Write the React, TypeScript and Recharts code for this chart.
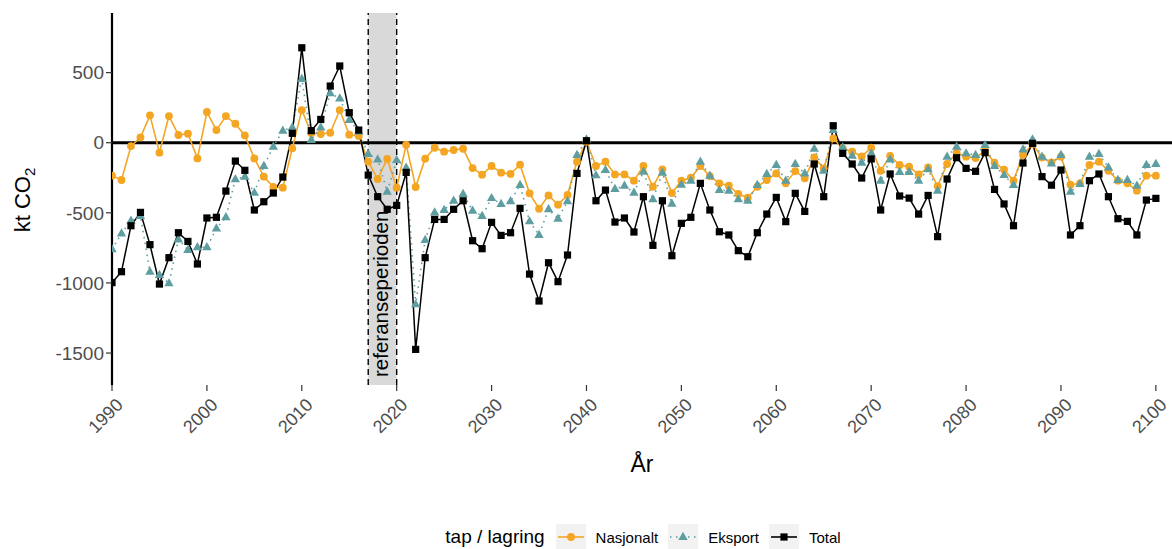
import React from "react";
import {
  LineChart,
  Line,
  XAxis,
  YAxis,
  ReferenceArea,
  ReferenceLine,
  Legend,
} from "recharts";

// årlige verdier 1990–2100, kt CO2
const years = Array.from({ length: 111 }, (_, i) => 1990 + i);

const nasjonalt = [
  -235, -266, -24, 38, 195, -71, 190, 55, 64, -112,
  219, 90, 190, 135, 52, -112, -242, -316, -321, -40,
  233, 67, 62, 71, 233, 57, 48, -135, -259, -116,
  -321, -14, -316, -114, -36, -64, -52, -43, -181, -228,
  -166, -214, -223, -157, -361, -471, -376, -442, -373, -135,
  7, -166, -135, -226, -226, -271, -166, -314, -190, -359,
  -271, -250, -166, -238, -290, -307, -366, -392, -314, -266,
  -219, -290, -202, -254, -105, -183, 31, -40, -64, -98,
  -36, -200, -95, -159, -171, -226, -176, -309, -152, -71,
  -100, -109, -57, -143, -192, -270, -88, -10, -106, -140,
  -100, -300, -290, -159, -135, -200, -271, -290, -342, -235,
  -235,
];

const eksport = [
  -760, -647, -556, -523, -920, -944, -1003, -690, -765, -746,
  -746, -611, -532, -261, -242, -357, -166, -29, 86, 109,
  455, 19, 109, 352, 316, 162, 80, -81, -119, -349,
  -124, -178, -1153, -694, -497, -480, -414, -366, -485, -523,
  -395, -437, -418, -302, -561, -658, -475, -542, -418, -88,
  24, -233, -195, -330, -307, -357, -207, -404, -214, -435,
  -300, -271, -135, -235, -338, -342, -404, -414, -302, -223,
  -159, -271, -152, -219, -43, -200, 90, -33, -93, -143,
  -76, -271, -119, -209, -209, -271, -190, -342, -100, -29,
  -76, -88, -17, -166, -231, -302, -48, 24, -100, -148,
  -88, -349, -295, -100, -81, -176, -266, -266, -307, -159,
  -152,
];

const total = [
  -998, -920, -592, -497, -727, -1008, -820, -642, -704, -865,
  -537, -532, -345, -131, -197, -480, -421, -359, -245, 67,
  677, 86, 166, 404, 547, 214, 90, -231, -385, -475,
  -447, -212, -1474, -820, -547, -547, -475, -414, -699, -756,
  -568, -661, -642, -468, -937, -1129, -856, -991, -801, -219,
  14, -414, -338, -566, -537, -637, -385, -732, -414, -806,
  -575, -532, -290, -480, -635, -658, -770, -813, -642, -509,
  -390, -563, -361, -490, -152, -385, 121, -76, -152, -252,
  -116, -480, -223, -380, -395, -509, -376, -670, -259, -107,
  -183, -204, -71, -333, -437, -592, -145, -5, -242, -303,
  -195, -658, -592, -271, -223, -385, -542, -561, -658, -409,
  -397,
];

const yearTicks = [1990, 2000, 2010, 2020, 2030, 2040, 2050, 2060, 2070, 2080, 2090, 2100];
const valueTicks = [-1500, -1000, -500, 0, 500];
const referansePeriode = [2017, 2020];
const seriesOrder = ["nasjonalt", "eksport", "total"];

const data = years.map((year, i) => ({
  year,
  nasjonalt: nasjonalt[i],
  eksport: eksport[i],
  total: total[i],
}));

const FONT = '"Liberation Sans", Arial, Helvetica, sans-serif';
const ORANGE = "#F4A521";
const TEAL = "#5F9EA0";
const GREY_TEXT = "#4D4D4D";

const circleDot = (p: any) =>
  p.cx == null ? null : <circle key={`n-${p.index}`} cx={p.cx} cy={p.cy} r={3.9} fill={ORANGE} />;

const triangleDot = (p: any) =>
  p.cx == null ? null : (
    <path
      key={`e-${p.index}`}
      d={`M${p.cx},${p.cy - 5.2}L${p.cx - 4.7},${p.cy + 3}L${p.cx + 4.7},${p.cy + 3}Z`}
      fill={TEAL}
    />
  );

const squareDot = (p: any) =>
  p.cx == null ? null : (
    <rect key={`t-${p.index}`} x={p.cx - 3.6} y={p.cy - 3.6} width={7.2} height={7.2} fill="#000" />
  );

const YearTick = ({ x, y, payload }: any) => {
  const ax = x + 12;
  const ay = y + 15;
  return (
    <text
      x={ax}
      y={ay}
      transform={`rotate(-45, ${ax}, ${ay})`}
      textAnchor="end"
      fontSize={18}
      fill={GREY_TEXT}
      fontFamily={FONT}
    >
      {payload.value}
    </text>
  );
};

const PeriodLabel = ({ viewBox }: any) => {
  if (!viewBox) return null;
  const tx = viewBox.x + viewBox.width / 2 + 6;
  const ty = viewBox.y + viewBox.height - 8;
  return (
    <text
      x={tx}
      y={ty}
      transform={`rotate(-90, ${tx}, ${ty})`}
      textAnchor="start"
      fontSize={20.5}
      fill="#000"
      fontFamily={FONT}
    >
      referanseperioden
    </text>
  );
};

const YTitle = () => (
  <text
    x={30}
    y={200}
    transform="rotate(-90, 30, 200)"
    textAnchor="middle"
    fontSize={22}
    fill="#000"
    fontFamily={FONT}
  >
    kt CO
    <tspan fontSize={15} dy={5}>
      2
    </tspan>
  </text>
);

const XTitle = ({ viewBox }: any) => {
  if (!viewBox) return null;
  return (
    <text
      x={viewBox.x + viewBox.width / 2}
      y={viewBox.y + 87}
      textAnchor="middle"
      fontSize={23}
      fill="#000"
      fontFamily={FONT}
    >
      År
    </text>
  );
};

const LegendKey = ({ dataKey, color }: { dataKey: string; color: string }) => (
  <svg width={30} height={26} style={{ background: "#F2F2F2", display: "block" }}>
    <line
      x1={2}
      x2={28}
      y1={13}
      y2={13}
      stroke={color}
      strokeWidth={1.6}
      strokeDasharray={dataKey === "eksport" ? "1.5 4.5" : undefined}
    />
    {dataKey === "nasjonalt" && <circle cx={15} cy={13} r={3.9} fill={color} />}
    {dataKey === "eksport" && <path d="M15,7.8L10.3,16L19.7,16Z" fill={color} />}
    {dataKey === "total" && <rect x={11.4} y={9.4} width={7.2} height={7.2} fill={color} />}
  </svg>
);

const LegendContent = ({ payload }: any) => {
  const items = [...(payload || [])].sort(
    (a: any, b: any) => seriesOrder.indexOf(a.dataKey) - seriesOrder.indexOf(b.dataKey)
  );
  return (
    <div
      style={{
        display: "flex",
        justifyContent: "center",
        alignItems: "center",
        height: 26,
        fontFamily: FONT,
        color: "#000",
      }}
    >
      <span style={{ fontSize: 19, marginRight: 11 }}>tap / lagring</span>
      {items.map((entry: any) => (
        <div key={entry.dataKey} style={{ display: "flex", alignItems: "center", marginRight: 10 }}>
          <LegendKey dataKey={entry.dataKey} color={entry.color} />
          <span style={{ fontSize: 15, marginLeft: 10 }}>{entry.value}</span>
        </div>
      ))}
    </div>
  );
};

export default function App() {
  return (
    <div style={{ position: "absolute", left: 0, top: 0, background: "#fff" }}>
      <LineChart
        width={1172}
        height={549}
        data={data}
        margin={{ top: 13, right: 0, left: 0, bottom: 43 }}
      >
        <XAxis
          dataKey="year"
          type="number"
          domain={[1990, 2101.7]}
          ticks={yearTicks}
          interval={0}
          allowDataOverflow
          axisLine={false}
          tickLine={{ stroke: "#333", strokeWidth: 1.2 }}
          tickSize={6}
          tickMargin={0}
          height={95}
          tick={<YearTick />}
          label={<XTitle />}
        />
        <YAxis
          type="number"
          domain={[-1728, 925]}
          ticks={valueTicks}
          interval={0}
          allowDataOverflow
          width={112}
          axisLine={{ stroke: "#000", strokeWidth: 2.2 }}
          tickLine={{ stroke: "#333", strokeWidth: 1.2 }}
          tickSize={6}
          tickMargin={2}
          tick={{ fontSize: 19, fill: GREY_TEXT, fontFamily: FONT }}
          label={<YTitle />}
        />
        <ReferenceArea
          x1={referansePeriode[0]}
          x2={referansePeriode[1]}
          fill="#D9D9D9"
          fillOpacity={1}
          stroke="none"
          label={<PeriodLabel />}
        />
        <ReferenceLine x={referansePeriode[0]} stroke="#000" strokeWidth={1.4} strokeDasharray="6 4" />
        <ReferenceLine x={referansePeriode[1]} stroke="#000" strokeWidth={1.4} strokeDasharray="6 4" />
        <ReferenceLine y={0} stroke="#000" strokeWidth={3} />
        <Line
          dataKey="nasjonalt"
          name="Nasjonalt"
          stroke={ORANGE}
          strokeWidth={1.6}
          dot={circleDot}
          activeDot={false}
          isAnimationActive={false}
        />
        <Line
          dataKey="eksport"
          name="Eksport"
          stroke={TEAL}
          strokeWidth={1.6}
          strokeDasharray="1.5 4.5"
          dot={triangleDot}
          activeDot={false}
          isAnimationActive={false}
        />
        <Line
          dataKey="total"
          name="Total"
          stroke="#000"
          strokeWidth={1.5}
          dot={squareDot}
          activeDot={false}
          isAnimationActive={false}
        />
        <Legend
          verticalAlign="bottom"
          content={<LegendContent />}
          wrapperStyle={{ left: 118, width: 1060, top: 524, bottom: "auto", height: 26 }}
        />
      </LineChart>
    </div>
  );
}
